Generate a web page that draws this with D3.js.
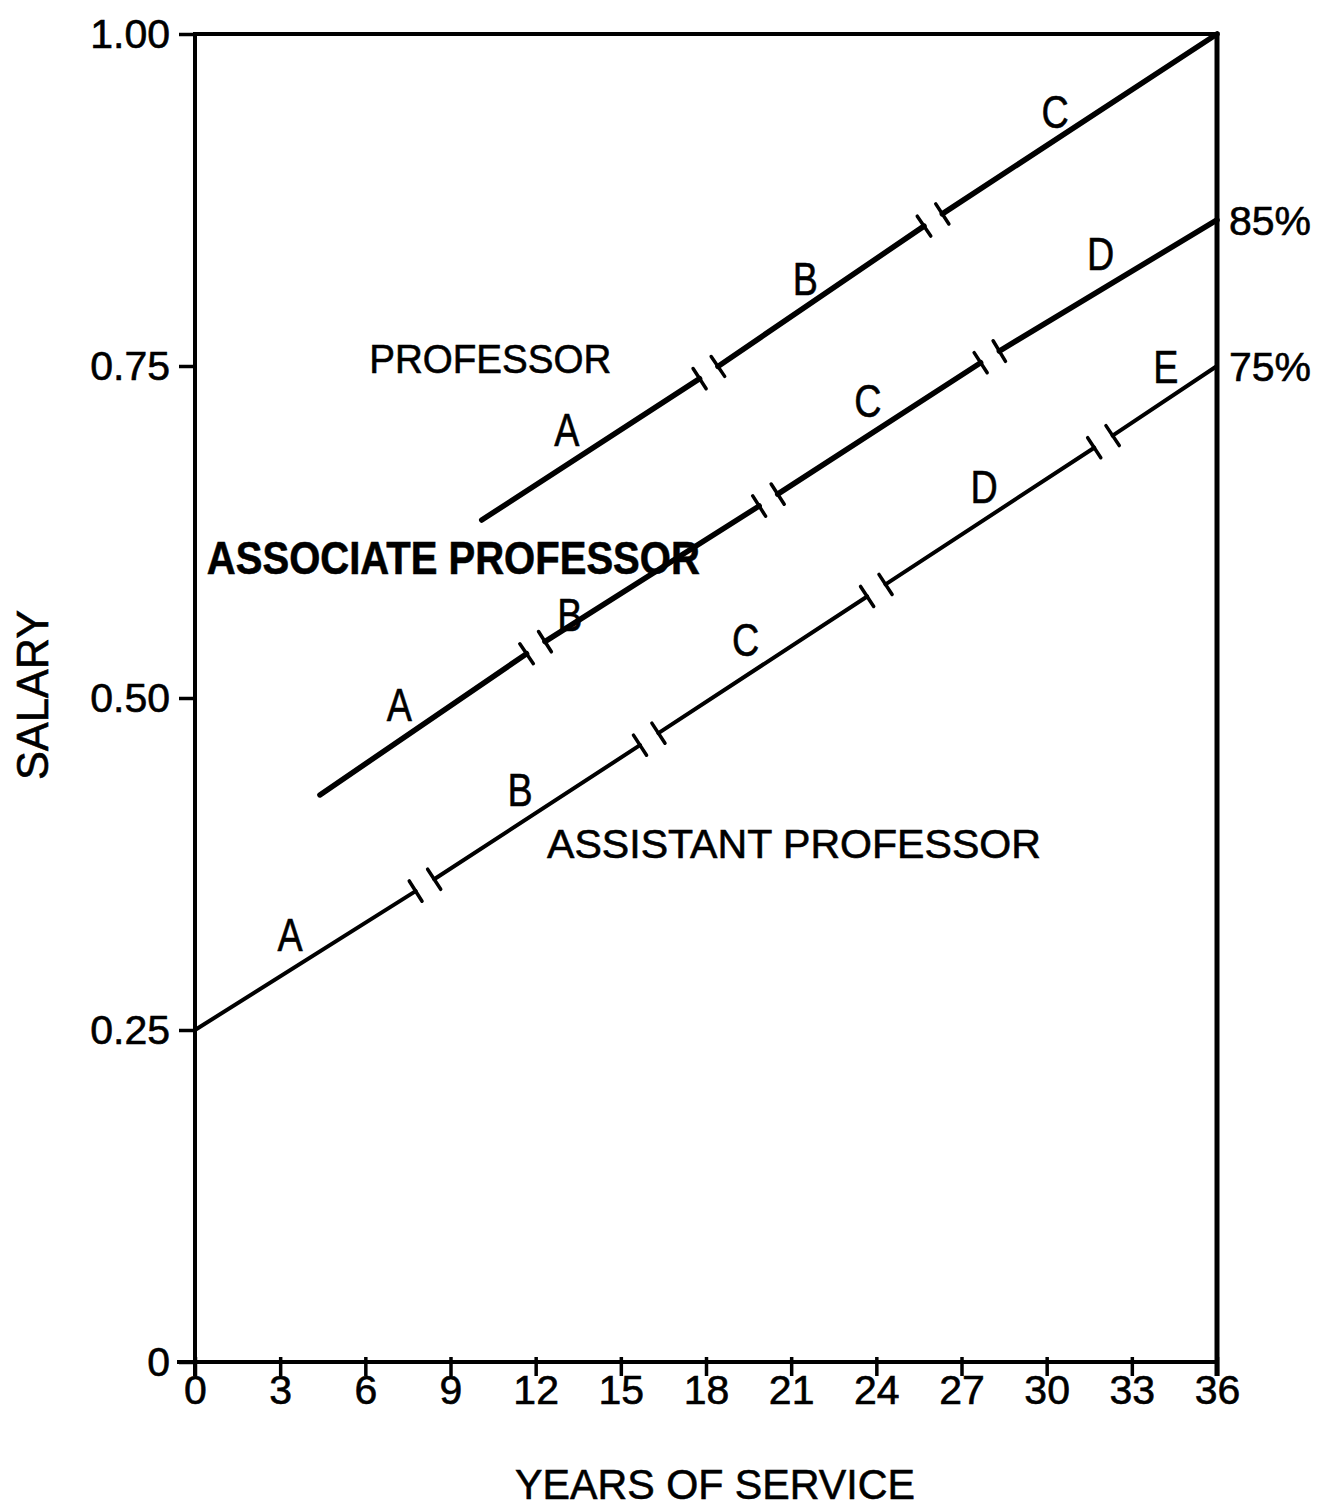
<!DOCTYPE html>
<html>
<head>
<meta charset="utf-8">
<script src="https://cdn.jsdelivr.net/npm/d3@7"></script>
<style>
  body { margin: 0; background: #fff; }
  text { font-family: "Liberation Sans", Arial, sans-serif; fill: #000; stroke: #000; stroke-width: 0.6px; }
</style>
</head>
<body>
<div id="salary-chart"></div>
<script>
// axis ticks
const yearTicks = [0, 3, 6, 9, 12, 15, 18, 21, 24, 27, 30, 33, 36];
const salaryTicks = [0, 0.25, 0.5, 0.75, 1.0];
const salaryTickLabels = ["0", "0.25", "0.50", "0.75", "1.00"];

// each rank line: start, step breaks, end (years of service, salary)
const professorYears = [10.1, 18.1, 26.0, 36];
const professorSalary = [0.634, 0.745, 0.860, 1.0];
const professorSteps = ["A", "B", "C"];
const professorStepYear = [13.1, 21.5, 30.3];
const professorStepSalary = [0.702, 0.816, 0.942];

const associateYears = [4.4, 12.0, 20.2, 28.0, 36];
const associateSalary = [0.427, 0.538, 0.649, 0.757, 0.86];
const associateSteps = ["A", "B", "C", "D"];
const associateStepYear = [7.2, 13.2, 23.7, 31.9];
const associateStepSalary = [0.495, 0.563, 0.724, 0.835];

const assistantYears = [0, 8.1, 16.0, 24.0, 32.0, 36];
const assistantSalary = [0.25, 0.359, 0.469, 0.581, 0.693, 0.75];
const assistantSteps = ["A", "B", "C", "D", "E"];
const assistantStepYear = [3.35, 11.45, 19.4, 27.8, 34.2];
const assistantStepSalary = [0.322, 0.431, 0.544, 0.659, 0.75];

const rankNames = ["PROFESSOR", "ASSOCIATE PROFESSOR", "ASSISTANT PROFESSOR"];
const rankNameYear = [10.4, 9.1, 21.1];
const rankNameSalary = [0.756, 0.606, 0.391];

const endLabels = ["85%", "75%"];

function drawChart(element_id) {
	const svg = d3.select("#" + element_id)
		.append("svg")
		.attr("width", 1334)
		.attr("height", 1509);

	const x = d3.scaleLinear().domain([0, 36]).range([195, 1217]);
	const y = d3.scaleLinear().domain([0, 1]).range([1362, 34]);

	// frame: top and right edges
	svg.append("line")
		.attr("x1", x(0)).attr("y1", y(1))
		.attr("x2", x(36)).attr("y2", y(1))
		.attr("stroke", "#000").attr("stroke-width", 4);
	svg.append("line")
		.attr("x1", x(36)).attr("y1", y(1) - 2)
		.attr("x2", x(36)).attr("y2", y(0) + 14)
		.attr("stroke", "#000").attr("stroke-width", 5);

	// Y axis
	const yAxis = svg.append("g")
		.attr("transform", "translate(" + x(0) + ",0)")
		.call(d3.axisLeft(y)
			.tickValues(salaryTicks)
			.tickFormat((d, i) => salaryTickLabels[i])
			.tickSize(16)
			.tickSizeOuter(0)
			.tickPadding(9));

	// X axis
	const xAxis = svg.append("g")
		.attr("transform", "translate(0," + y(0) + ")")
		.call(d3.axisBottom(x)
			.tickValues(yearTicks)
			.tickSize(14)
			.tickSizeOuter(0)
			.tickPadding(-1));

	[yAxis, xAxis].forEach(ax => {
		ax.select(".domain").attr("stroke", "#000").attr("stroke-width", 4);
		ax.selectAll(".tick line").attr("stroke", "#000").attr("stroke-width", 3.5);
		ax.selectAll(".tick text")
			.attr("fill", "#000")
			.style("font-family", "'Liberation Sans', Arial, sans-serif")
			.style("font-size", "41px");
	});
	// x ticks poke slightly above the axis too
	xAxis.selectAll(".tick line").attr("y1", -5);
	xAxis.select(".domain").attr("d", "M" + (x(0) - 18) + ",0H" + x(36));
	yAxis.select(".domain").attr("d", "M0," + (y(1) - 2) + "V" + (y(0) + 14));

	// rank lines broken into steps, with a bar at each break
	function drawRank(years, salary, width) {
		const pts = years.map((t, i) => [x(t), y(salary[i])]);
		const gap = 11, half = 12;
		const g = svg.append("g")
			.attr("stroke", "#000")
			.attr("stroke-linecap", "round");
		for (let i = 0; i < pts.length - 1; i++) {
			const a = pts[i], b = pts[i + 1];
			const len = Math.hypot(b[0] - a[0], b[1] - a[1]);
			const ux = (b[0] - a[0]) / len, uy = (b[1] - a[1]) / len;
			const px = -uy, py = ux;
			const s = i > 0 ? [a[0] + ux * gap, a[1] + uy * gap] : a;
			const e = i < pts.length - 2 ? [b[0] - ux * gap, b[1] - uy * gap] : b;
			g.append("line")
				.attr("x1", s[0]).attr("y1", s[1])
				.attr("x2", e[0]).attr("y2", e[1])
				.attr("stroke-width", width);
			const bars = [];
			if (i > 0) bars.push(s);
			if (i < pts.length - 2) bars.push(e);
			bars.forEach(p => {
				g.append("line")
					.attr("x1", p[0] - px * half).attr("y1", p[1] - py * half)
					.attr("x2", p[0] + px * half).attr("y2", p[1] + py * half)
					.attr("stroke-width", 3.5);
			});
		}
	}
	drawRank(professorYears, professorSalary, 5.5);
	drawRank(associateYears, associateSalary, 5.5);
	drawRank(assistantYears, assistantSalary, 4);

	// step letters
	function drawSteps(letters, years, salary) {
		svg.append("g").selectAll("text")
			.data(letters)
			.enter()
			.append("text")
			.attr("x", (d, i) => x(years[i]))
			.attr("y", (d, i) => y(salary[i]))
			.attr("dy", "0.36em")
			.attr("text-anchor", "middle")
			.style("font-size", "46px")
			.attr("transform", (d, i) => "translate(" + x(years[i]) + ",0) scale(0.82,1) translate(" + (-x(years[i])) + ",0)")
			.text(d => d);
	}
	drawSteps(professorSteps, professorStepYear, professorStepSalary);
	drawSteps(associateSteps, associateStepYear, associateStepSalary);
	drawSteps(assistantSteps, assistantStepYear, assistantStepSalary);

	// rank names
	const nameWidth = [242, 493, 494];
	const nameSize = [41, 47, 41];
	svg.append("g").selectAll("text")
		.data(rankNames)
		.enter()
		.append("text")
		.attr("x", (d, i) => x(rankNameYear[i]))
		.attr("y", (d, i) => y(rankNameSalary[i]))
		.attr("dy", "0.36em")
		.attr("text-anchor", "middle")
		.attr("textLength", (d, i) => nameWidth[i])
		.attr("lengthAdjust", "spacingAndGlyphs")
		.style("font-size", (d, i) => nameSize[i] + "px")
		.style("font-weight", (d, i) => i === 1 ? "bold" : "normal")
		.text(d => d);

	// percent labels at the right edge
	const endSalary = [associateSalary[associateSalary.length - 1], assistantSalary[assistantSalary.length - 1]];
	svg.append("g").selectAll("text")
		.data(endLabels)
		.enter()
		.append("text")
		.attr("x", x(36) + 12)
		.attr("y", (d, i) => y(endSalary[i]))
		.attr("dy", "0.36em")
		.style("font-size", "41px")
		.text(d => d);

	// axis titles
	svg.append("text")
		.attr("x", 715)
		.attr("y", 1484)
		.attr("dy", "0.36em")
		.attr("text-anchor", "middle")
		.attr("textLength", 400)
		.attr("lengthAdjust", "spacingAndGlyphs")
		.style("font-size", "43px")
		.text("YEARS OF SERVICE");

	svg.append("text")
		.attr("transform", "translate(32,695) rotate(-90)")
		.attr("dy", "0.36em")
		.attr("text-anchor", "middle")
		.attr("textLength", 170)
		.attr("lengthAdjust", "spacingAndGlyphs")
		.style("font-size", "45px")
		.text("SALARY");
}

function whenDocumentLoaded(action) {
	if (document.readyState === "loading") {
		document.addEventListener("DOMContentLoaded", action);
	} else {
		action();
	}
}

whenDocumentLoaded(() => {
	drawChart("salary-chart");
});
</script>
</body>
</html>
